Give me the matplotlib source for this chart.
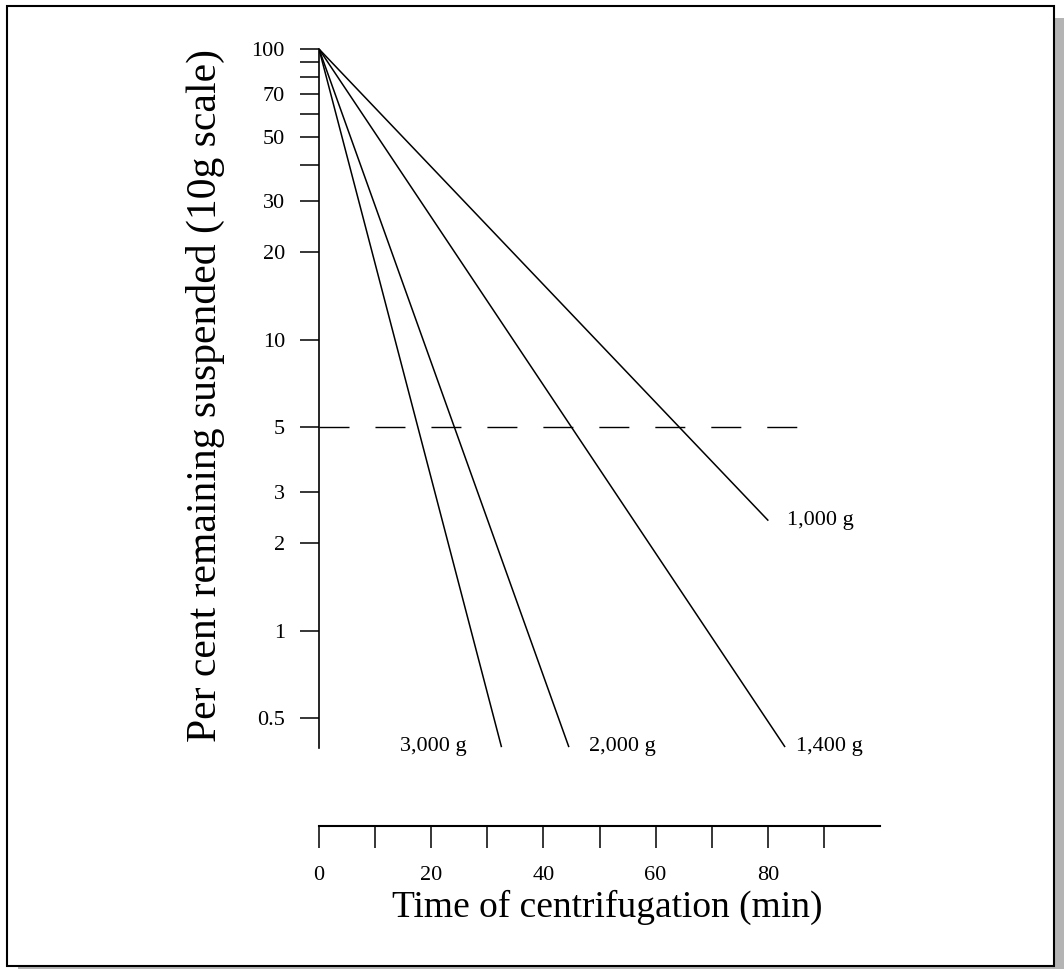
import matplotlib
matplotlib.use("Agg")
import matplotlib.pyplot as plt
from matplotlib.patches import Rectangle
import numpy as np

# centrifuge speeds and where each straight (log) line ends
speeds = ['1,000 g', '1,400 g', '2,000 g', '3,000 g']
t_start = 0
pct_start = 100
t_end = [80, 83, 44.5, 32.5]
pct_end = [2.4, 0.4, 0.4, 0.4]

cutoff_pct = 5
cutoff_t = [0, 86]

y_ticks = [100, 90, 80, 70, 60, 50, 40, 30, 20, 10, 5, 3, 2, 1, 0.5]
y_labels = ['100', '', '', '70', '', '50', '', '30', '20', '10', '5', '3', '2', '1', '0.5']
x_ticks = [0, 10, 20, 30, 40, 50, 60, 70, 80, 90]
x_labels = ['0', '', '20', '', '40', '', '60', '', '80', '']

W, H = 1064, 969
plt.rcParams['font.family'] = ['Liberation Serif', 'DejaVu Serif']

fig = plt.figure(figsize=(W / 100, H / 100), dpi=100)

# drop shadow + frame round the picture
def px_rect(x0, y0, x1, y1, **kw):
    return Rectangle((x0 / W, 1 - y1 / H), (x1 - x0) / W, (y1 - y0) / H,
                     transform=fig.transFigure, **kw)

fig.add_artist(px_rect(1055, 18, 1064, 969, facecolor='#b4b4b4', edgecolor='none'))
fig.add_artist(px_rect(18, 967, 1064, 969, facecolor='#b4b4b4', edgecolor='none'))
fig.add_artist(px_rect(7, 6, 1054, 966, facecolor='none', edgecolor='black', linewidth=1.5))

ax = fig.add_axes([319 / W, 1 - 748 / H, 561 / W, 699 / H])
ax.set_yscale('log')
ax.set_xlim(0, 100)
ax.set_ylim(0.395, 100)

for i in range(len(speeds)):
    ax.plot([t_start, t_end[i]], [pct_start, pct_end[i]], color='black', lw=1.1)

ax.plot(cutoff_t, [cutoff_pct, cutoff_pct], color='black', lw=1.0, dashes=(21.6, 18.7))

# labels at the line ends (offsets in points)
offsets = [(14, 0), (8, 0), (15, 0), (-25, 0)]
aligns = ['left', 'left', 'left', 'right']
for i in range(len(speeds)):
    ax.annotate(speeds[i], (t_end[i], pct_end[i]), xytext=offsets[i],
                textcoords='offset points', ha=aligns[i], va='center', fontsize=16)

ax.spines['top'].set_visible(False)
ax.spines['right'].set_visible(False)
ax.spines['left'].set_linewidth(1.2)
ax.spines['bottom'].set_linewidth(1.5)
ax.spines['bottom'].set_position(('outward', 56))

ax.yaxis.set_minor_locator(matplotlib.ticker.NullLocator())
ax.set_yticks(y_ticks)
ax.set_yticklabels(y_labels)
ax.set_xticks(x_ticks)
ax.set_xticklabels(x_labels)
ax.tick_params(axis='y', direction='out', length=13.5, width=1.1, pad=11, labelsize=16)
ax.tick_params(axis='x', direction='out', length=16, width=1.1, pad=13, labelsize=16)

ax.set_ylabel('Per cent remaining suspended (10g scale)', fontsize=30)
ax.yaxis.set_label_coords(-0.203, 0.505)
ax.yaxis.label.set_va('center')
ax.set_xlabel('Time of centrifugation (min)', fontsize=27)
ax.xaxis.set_label_coords(0.513, -0.2275)
ax.xaxis.label.set_va('center')

fig.savefig('out.png', dpi=100)
